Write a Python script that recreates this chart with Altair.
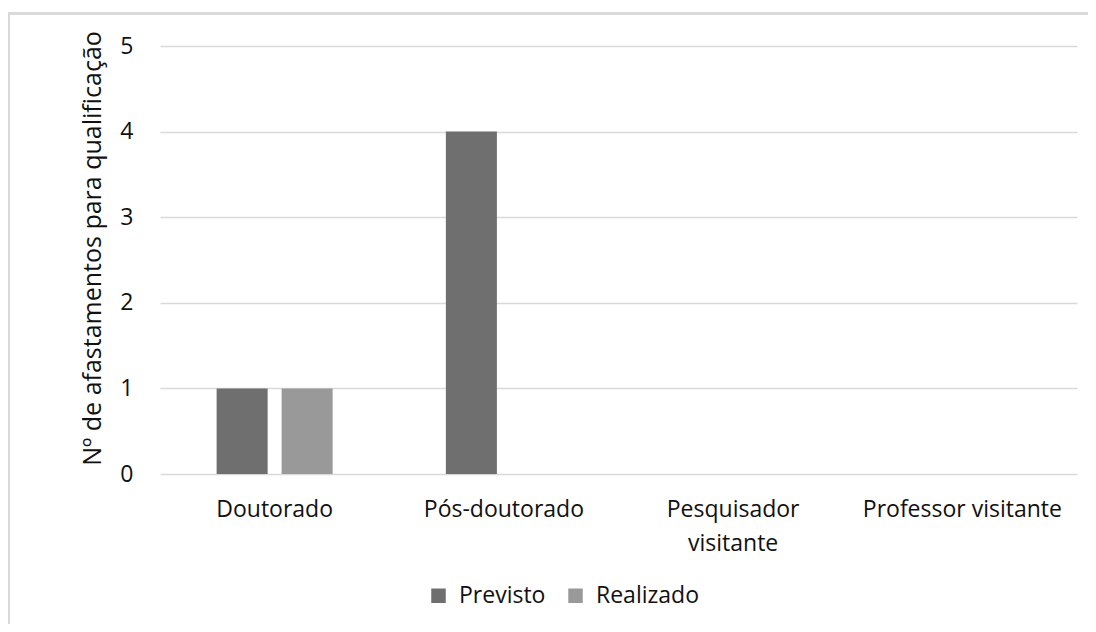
import altair as alt
import pandas as pd

categories = ["Doutorado", "Pós-doutorado", "Pesquisador visitante", "Professor visitante"]
series = ["Previsto", "Realizado"]
previsto = [1, 4, 0, 0]
realizado = [1, 0, 0, 0]

rows = []
for c, p, r in zip(categories, previsto, realizado):
    rows.append({"cat": c, "serie": "Previsto", "v": p})
    rows.append({"cat": c, "serie": "Realizado", "v": r})
df = pd.DataFrame(rows)

FONT = "Open Sans"
W, H = 917, 428

bars = alt.Chart(df).mark_bar().encode(
    x=alt.X("cat:N", sort=categories,
            scale=alt.Scale(paddingInner=0.494, paddingOuter=0.247),
            axis=alt.Axis(title=None, labelAngle=0, domain=False, ticks=False,
                          labelFontSize=23, labelFont=FONT, labelColor="#111111",
                          labelPadding=24, labelLineHeight=34, labelLimit=400,
                          labelExpr="datum.label == 'Pesquisador visitante' ? ['Pesquisador', 'visitante'] : datum.label")),
    xOffset=alt.XOffset("serie:N", sort=series,
                        scale=alt.Scale(paddingInner=0.215, paddingOuter=0)),
    y=alt.Y("v:Q", scale=alt.Scale(domain=[0, 5]),
            axis=alt.Axis(title="Nº de afastamentos para qualificação", values=[0, 1, 2, 3, 4, 5],
                          domain=False, ticks=False, grid=True, gridColor="#d9d9d9", gridWidth=1.5,
                          labelFontSize=23, labelFont=FONT, labelColor="#111111", labelPadding=27,
                          titleFont=FONT, titleFontSize=25, titleFontWeight="normal", titleColor="#111111",
                          titleAngle=-90, titleX=-60, titleY=202, titleAlign="center",
                          titleBaseline="alphabetic")),
    color=alt.Color("serie:N", sort=series,
                    scale=alt.Scale(domain=series, range=["#6f6f6f", "#999999"]),
                    legend=alt.Legend(title=None, orient="none", direction="horizontal",
                                      legendX=267, legendY=538, symbolType="square", symbolSize=210,
                                      symbolStrokeWidth=0, labelFont=FONT, labelFontSize=23,
                                      labelColor="#111111", labelOffset=9, columnPadding=18)),
)

border_left = alt.Chart(df).mark_rule(color="#d9d9d9", strokeWidth=2).encode(
    x=alt.value(-151), y=alt.value(-32.5), y2=alt.value(700))
border_top = alt.Chart(df).mark_rule(color="#d9d9d9", strokeWidth=2).encode(
    y=alt.value(-32.5), x=alt.value(-152), x2=alt.value(1100))

chart = alt.layer(border_left, border_top, bars).properties(
    width=W, height=H,
    autosize=alt.AutoSizeParams(type="none"),
    padding={"left": 152, "top": 38, "right": 11, "bottom": 150},
    background="white",
).configure_view(stroke=None)

chart.save("out.html", embed_options={"renderer": "svg", "actions": False})
